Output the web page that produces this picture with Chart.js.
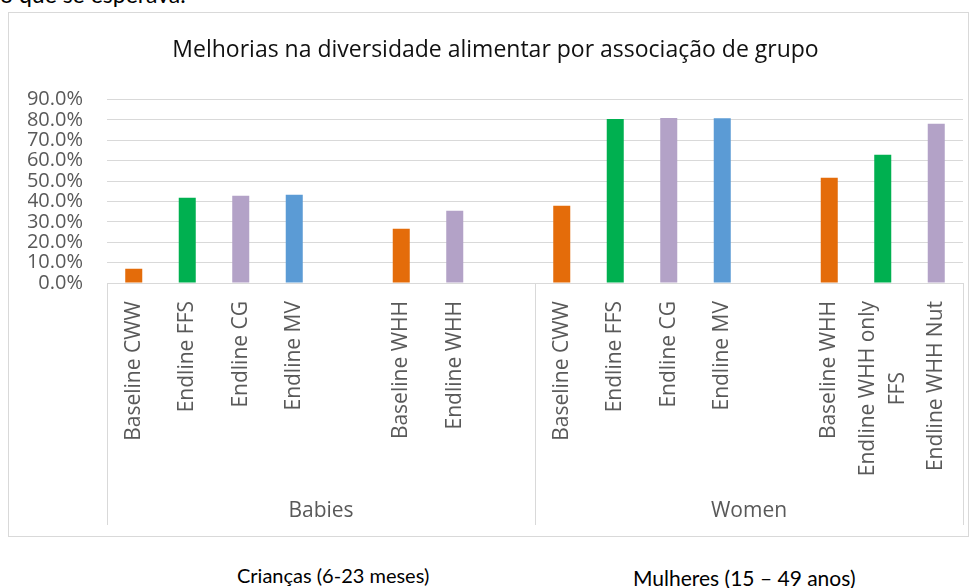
<!DOCTYPE html>
<html>
<head>
<meta charset="utf-8">
<script src="https://cdn.jsdelivr.net/npm/chart.js@4.4.1/dist/chart.umd.min.js"></script>
<style>
  body { margin: 0; width: 979px; height: 588px; overflow: hidden; background: #fff; position: relative; }
  #box { position: absolute; left: 8px; top: 12px; width: 961px; height: 525px; border: 1px solid #d9d9d9; box-sizing: border-box; }
  #wrap { position: relative; width: 959px; height: 523px; }
  .note { position: absolute; font-family: "Lato", sans-serif; font-size: 20px; color: #000; white-space: nowrap; }
</style>
</head>
<body>
<div class="note" style="left:0px; top:-20px; font-size:23px;">o que se esperava.</div>
<div id="box"><div id="wrap"><canvas id="dietChart"></canvas></div></div>
<div class="note" style="left:237px; top:563px;">Crianças (6-23 meses)</div>
<div class="note" style="left:633px; top:565px; font-size:21px;">Mulheres (15 – 49 anos)</div>
<script>
    const chartTitle = "Melhorias na diversidade alimentar por associação de grupo";

    // 16 slots, blanks keep the gaps seen in the original
    const categories = [
      "Baseline CWW", "Endline FFS", "Endline CG", "Endline MV", "", "Baseline WHH", "Endline WHH", "",
      "Baseline CWW", "Endline FFS", "Endline CG", "Endline MV", "", "Baseline WHH", ["Endline WHH only", "FFS"], "Endline WHH Nut"
    ];
    const groups = ["Babies", "Women"];
    const groupSizes = [8, 8];
    const values = [7.0, 41.8, 42.8, 43.3, null, 26.6, 35.4, null,
                    37.9, 80.5, 81.0, 80.9, null, 51.6, 62.9, 78.1];
    const yMax = 90;
    const yStep = 10;

    const barColors = ["#E46C0A", "#00B050", "#B3A2C7", "#5B9BD5", null, "#E46C0A", "#B3A2C7", null,
                       "#E46C0A", "#00B050", "#B3A2C7", "#5B9BD5", null, "#E46C0A", "#00B050", "#B3A2C7"];

    const labelFont = '21px "Open Sans"';
    const textGray = "#595959";
    const lineGray = "#d9d9d9";

    // draws the rotated category labels, group names and separators
    const groupAxis = {
      id: "groupAxis",
      afterDraw(chart) {
        const ctx = chart.ctx;
        const x = chart.scales.x;
        const area = chart.chartArea;
        const slot = x.getPixelForValue(1) - x.getPixelForValue(0);
        ctx.save();

        ctx.font = labelFont;
        ctx.fillStyle = textGray;
        ctx.textAlign = "right";
        ctx.textBaseline = "middle";
        categories.forEach((lab, i) => {
          if (!lab) return;
          const lines = Array.isArray(lab) ? lab : [lab];
          const px = x.getPixelForValue(i);
          lines.forEach((ln, k) => {
            const off = (k - (lines.length - 1) / 2) * 30;
            ctx.save();
            ctx.translate(px + off, area.bottom + 18);
            ctx.rotate(-Math.PI / 2);
            if (k > 0) {
              // centre following lines under the first one
              const w0 = ctx.measureText(lines[0]).width;
              ctx.textAlign = "center";
              ctx.fillText(ln, -w0 / 2, 0);
            } else {
              ctx.fillText(ln, 0, 0);
            }
            ctx.restore();
          });
        });

        ctx.strokeStyle = lineGray;
        ctx.lineWidth = 1;
        let start = 0;
        const edges = [x.getPixelForValue(0) - slot / 2];
        groups.forEach((g, gi) => {
          const end = start + groupSizes[gi] - 1;
          edges.push(x.getPixelForValue(end) + slot / 2);
          const mid = (x.getPixelForValue(start) + x.getPixelForValue(end)) / 2;
          ctx.textAlign = "center";
          ctx.fillText(g, mid, area.bottom + 228);
          start = end + 1;
        });
        edges.forEach(e => {
          const ex = Math.round(e) + 0.5;
          ctx.beginPath();
          ctx.moveTo(ex, area.bottom);
          ctx.lineTo(ex, area.bottom + 242);
          ctx.stroke();
        });
        ctx.restore();
      }
    };

    const ctx = document.getElementById("dietChart").getContext("2d");
    new Chart(ctx, {
      type: "bar",
      data: {
        labels: categories,
        datasets: [{
          data: values,
          backgroundColor: barColors,
          borderWidth: 0,
          categoryPercentage: 1,
          barPercentage: 0.318
        }]
      },
      options: {
        responsive: true,
        maintainAspectRatio: false,
        animation: false,
        layout: { padding: { left: 19, right: 5, top: 0, bottom: 0 } },
        plugins: {
          legend: { display: false },
          tooltip: { enabled: false },
          title: {
            display: true,
            text: chartTitle,
            color: "#111",
            font: { family: "Open Sans", size: 23, weight: "normal" },
            padding: { top: 24, bottom: 35 }
          }
        },
        scales: {
          x: {
            ticks: { display: false },
            grid: { display: false },
            border: { display: false },
            afterFit(s) { s.height = 253; }
          },
          y: {
            min: 0,
            max: yMax,
            ticks: {
              stepSize: yStep,
              autoSkip: false,
              color: textGray,
              font: { family: "Open Sans", size: 20 },
              padding: 24,
              callback: v => v.toFixed(1) + "%"
            },
            grid: { color: lineGray, drawTicks: false, lineWidth: 1 },
            border: { display: false },
            afterFit(s) { s.width = 79; }
          }
        }
      },
      plugins: [groupAxis]
    });
</script>
</body>
</html>
